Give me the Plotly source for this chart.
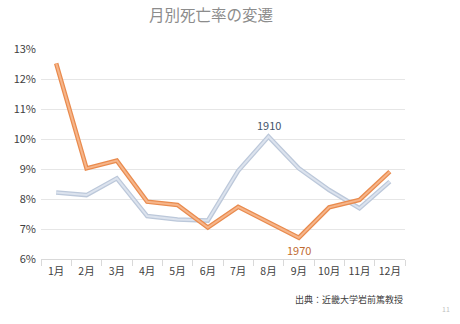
import plotly.graph_objects as go

months = ["1月", "2月", "3月", "4月", "5月", "6月", "7月", "8月", "9月", "10月", "11月", "12月"]
rate_1910 = [8.22, 8.13, 8.69, 7.43, 7.32, 7.28, 8.94, 10.08, 9.02, 8.30, 7.69, 8.58]
rate_1970 = [12.52, 9.02, 9.28, 7.91, 7.80, 7.05, 7.74, 7.22, 6.71, 7.72, 7.97, 8.91]
y_ticks = [6, 7, 8, 9, 10, 11, 12, 13]
y_labels = [f"{v}%" for v in y_ticks]

FONT = "Noto Sans CJK JP"
fig = go.Figure()

# Each series is drawn as a darker outline with a lighter core on top.
series = [
    (rate_1910, "#BCC8DA", "#DCE3EE"),
    (rate_1970, "#E98B4E", "#F6B58A"),
]
for vals, edge, core in series:
    fig.add_trace(go.Scatter(x=months, y=vals, mode="lines",
                             line=dict(color=edge, width=4.5), hoverinfo="skip"))
    fig.add_trace(go.Scatter(x=months, y=vals, mode="lines",
                             line=dict(color=core, width=2), hoverinfo="skip"))

fig.add_annotation(x="8月", y=rate_1910[7], text="1910", showarrow=False,
                   yshift=12, font=dict(family=FONT, size=11, color="#44546A"))
fig.add_annotation(x="9月", y=rate_1970[8], text="1970", showarrow=False,
                   yshift=-12, font=dict(family=FONT, size=11, color="#BF6A30"))

fig.add_annotation(xref="paper", yref="paper", x=0.5, y=1, xanchor="center",
                   yanchor="bottom", xshift=-12, yshift=22, text="月別死亡率の変遷",
                   showarrow=False, font=dict(family=FONT, size=15.5, color="#8C8C8C"))
fig.add_annotation(xref="paper", yref="paper", x=1, y=0, xanchor="right",
                   yanchor="top", yshift=-32, text="出典：近畿大学岩前篤教授", showarrow=False,
                   font=dict(family=FONT, size=9, color="#404040"))
fig.add_annotation(xref="paper", yref="paper", x=1, y=0, xanchor="right",
                   yanchor="top", xshift=47, yshift=-43, text="11", showarrow=False,
                   font=dict(family=FONT, size=7, color="#BFBFBF"))

fig.update_layout(
    width=460, height=324,
    margin=dict(l=41, r=55, t=49, b=65),
    paper_bgcolor="white", plot_bgcolor="white",
    showlegend=False,
    font=dict(family=FONT, color="#404040"),
)
fig.update_xaxes(
    type="category", range=[-0.5, 11.5],
    showgrid=False, showline=True, linecolor="#D9D9D9", linewidth=1,
    ticks="outside", ticklen=6, tickcolor="#D9D9D9", tickson="boundaries",
    tickangle=0, ticklabelstandoff=2,
    tickfont=dict(family=FONT, size=10.5, color="#404040"),
)
fig.update_yaxes(
    range=[6, 13], tickvals=y_ticks, ticktext=y_labels,
    showgrid=True, gridcolor="#E6E6E6", gridwidth=1, zeroline=False,
    showline=False, ticks="", ticklabelstandoff=4,
    tickfont=dict(family=FONT, size=11, color="#404040"),
)

fig.write_html("out.html")
